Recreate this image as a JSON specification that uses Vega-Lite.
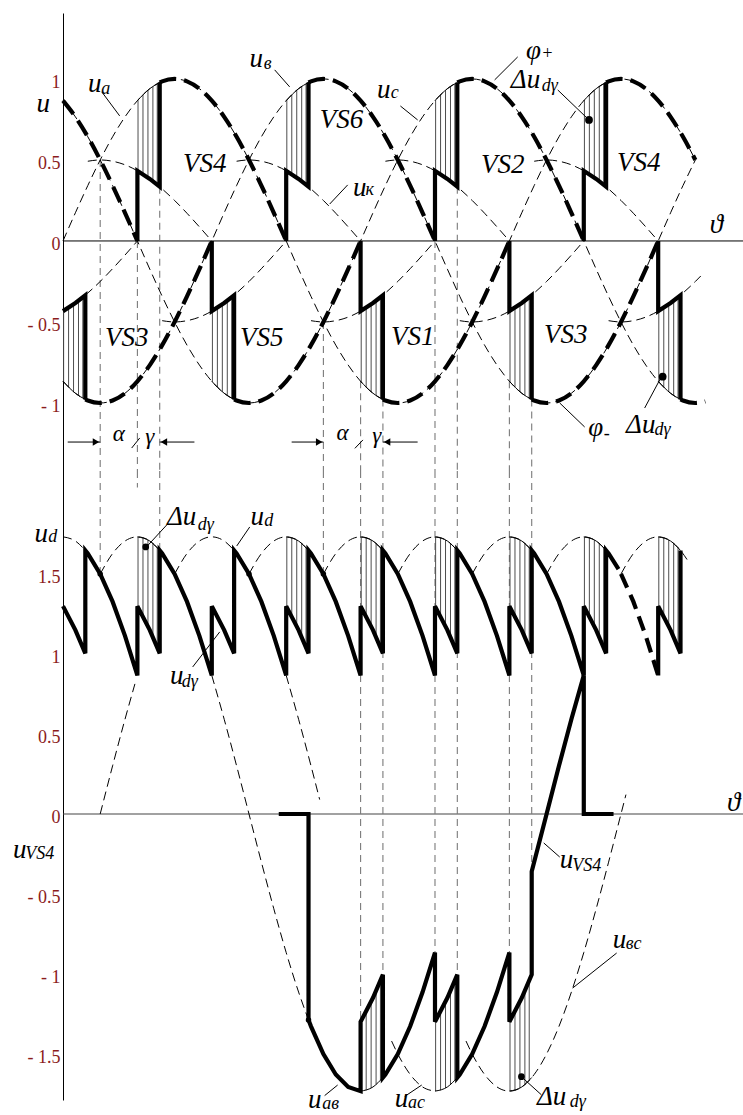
{
  "$schema": "https://vega.github.io/schema/vega-lite/v6.json",
  "width": 680,
  "height": 1087,
  "autosize": {"type": "none"},
  "padding": {"left": 63, "top": 13, "right": 0, "bottom": 15},
  "background": "white",
  "config": {"view": {"stroke": null}, "text": {"font": "Liberation Serif, Times New Roman, serif"}},
  "datasets": {
    "axT": [{"t": 0, "t2": 548.4, "u": 0}],
    "phase": [
      {"t":0,"a":0,"b":-0.866,"c":0.866},{"t":10,"a":0.174,"b":-0.94,"c":0.766},{"t":20,"a":0.342,"b":-0.985,"c":0.643},
      {"t":30,"a":0.5,"b":-1,"c":0.5},{"t":40,"a":0.643,"b":-0.985,"c":0.342},{"t":50,"a":0.766,"b":-0.94,"c":0.174},
      {"t":60,"a":0.866,"b":-0.866,"c":0},{"t":70,"a":0.94,"b":-0.766,"c":-0.174},{"t":80,"a":0.985,"b":-0.643,"c":-0.342},
      {"t":90,"a":1,"b":-0.5,"c":-0.5},{"t":100,"a":0.985,"b":-0.342,"c":-0.643},{"t":110,"a":0.94,"b":-0.174,"c":-0.766},
      {"t":120,"a":0.866,"b":0,"c":-0.866},{"t":130,"a":0.766,"b":0.174,"c":-0.94},{"t":140,"a":0.643,"b":0.342,"c":-0.985},
      {"t":150,"a":0.5,"b":0.5,"c":-1},{"t":160,"a":0.342,"b":0.643,"c":-0.985},{"t":170,"a":0.174,"b":0.766,"c":-0.94},
      {"t":180,"a":0,"b":0.866,"c":-0.866},{"t":190,"a":-0.174,"b":0.94,"c":-0.766},{"t":200,"a":-0.342,"b":0.985,"c":-0.643},
      {"t":210,"a":-0.5,"b":1,"c":-0.5},{"t":220,"a":-0.643,"b":0.985,"c":-0.342},{"t":230,"a":-0.766,"b":0.94,"c":-0.174},
      {"t":240,"a":-0.866,"b":0.866,"c":0},{"t":250,"a":-0.94,"b":0.766,"c":0.174},{"t":260,"a":-0.985,"b":0.643,"c":0.342},
      {"t":270,"a":-1,"b":0.5,"c":0.5},{"t":280,"a":-0.985,"b":0.342,"c":0.643},{"t":290,"a":-0.94,"b":0.174,"c":0.766},
      {"t":300,"a":-0.866,"b":0,"c":0.866},{"t":310,"a":-0.766,"b":-0.174,"c":0.94},{"t":320,"a":-0.643,"b":-0.342,"c":0.985},
      {"t":330,"a":-0.5,"b":-0.5,"c":1},{"t":340,"a":-0.342,"b":-0.643,"c":0.985},{"t":350,"a":-0.174,"b":-0.766,"c":0.94},
      {"t":360,"a":0,"b":-0.866,"c":0.866},{"t":370,"a":0.174,"b":-0.94,"c":0.766},{"t":380,"a":0.342,"b":-0.985,"c":0.643},
      {"t":390,"a":0.5,"b":-1,"c":0.5},{"t":400,"a":0.643,"b":-0.985,"c":0.342},{"t":410,"a":0.766,"b":-0.94,"c":0.174},
      {"t":420,"a":0.866,"b":-0.866,"c":0},{"t":430,"a":0.94,"b":-0.766,"c":-0.174},{"t":440,"a":0.985,"b":-0.643,"c":-0.342},
      {"t":450,"a":1,"b":-0.5,"c":-0.5},{"t":460,"a":0.985,"b":-0.342,"c":-0.643},{"t":470,"a":0.94,"b":-0.174,"c":-0.766},
      {"t":480,"a":0.866,"b":0,"c":-0.866},{"t":490,"a":0.766,"b":0.174,"c":-0.94},{"t":500,"a":0.643,"b":0.342,"c":-0.985},
      {"t":510,"a":0.5,"b":0.5,"c":-1}
    ],
    "kcurve": [
      {"s":"k30","t":20,"u":0.492},{"s":"k30","t":30,"u":0.5},{"s":"k30","t":40,"u":0.492},{"s":"k30","t":50,"u":0.47},{"s":"k30","t":60,"u":0.433},{"s":"k30","t":70,"u":0.383},{"s":"k30","t":80,"u":0.321},{"s":"k30","t":90,"u":0.25},{"s":"k30","t":100,"u":0.171},{"s":"k30","t":110,"u":0.087},{"s":"k30","t":120,"u":0},
      {"s":"k150","t":140,"u":0.492},{"s":"k150","t":150,"u":0.5},{"s":"k150","t":160,"u":0.492},{"s":"k150","t":170,"u":0.47},{"s":"k150","t":180,"u":0.433},{"s":"k150","t":190,"u":0.383},{"s":"k150","t":200,"u":0.321},{"s":"k150","t":210,"u":0.25},{"s":"k150","t":220,"u":0.171},{"s":"k150","t":230,"u":0.087},{"s":"k150","t":240,"u":0},
      {"s":"k270","t":260,"u":0.492},{"s":"k270","t":270,"u":0.5},{"s":"k270","t":280,"u":0.492},{"s":"k270","t":290,"u":0.47},{"s":"k270","t":300,"u":0.433},{"s":"k270","t":310,"u":0.383},{"s":"k270","t":320,"u":0.321},{"s":"k270","t":330,"u":0.25},{"s":"k270","t":340,"u":0.171},{"s":"k270","t":350,"u":0.087},{"s":"k270","t":360,"u":0},
      {"s":"k390","t":380,"u":0.492},{"s":"k390","t":390,"u":0.5},{"s":"k390","t":400,"u":0.492},{"s":"k390","t":410,"u":0.47},{"s":"k390","t":420,"u":0.433},{"s":"k390","t":430,"u":0.383},{"s":"k390","t":440,"u":0.321},{"s":"k390","t":450,"u":0.25},{"s":"k390","t":460,"u":0.171},{"s":"k390","t":470,"u":0.087},{"s":"k390","t":480,"u":0},
      {"s":"km30","t":0,"u":-0.433},{"s":"km30","t":10,"u":-0.383},{"s":"km30","t":20,"u":-0.321},{"s":"km30","t":30,"u":-0.25},{"s":"km30","t":40,"u":-0.171},{"s":"km30","t":50,"u":-0.087},{"s":"km30","t":60,"u":0},
      {"s":"k90","t":80,"u":-0.492},{"s":"k90","t":90,"u":-0.5},{"s":"k90","t":100,"u":-0.492},{"s":"k90","t":110,"u":-0.47},{"s":"k90","t":120,"u":-0.433},{"s":"k90","t":130,"u":-0.383},{"s":"k90","t":140,"u":-0.321},{"s":"k90","t":150,"u":-0.25},{"s":"k90","t":160,"u":-0.171},{"s":"k90","t":170,"u":-0.087},{"s":"k90","t":180,"u":0},
      {"s":"k210","t":200,"u":-0.492},{"s":"k210","t":210,"u":-0.5},{"s":"k210","t":220,"u":-0.492},{"s":"k210","t":230,"u":-0.47},{"s":"k210","t":240,"u":-0.433},{"s":"k210","t":250,"u":-0.383},{"s":"k210","t":260,"u":-0.321},{"s":"k210","t":270,"u":-0.25},{"s":"k210","t":280,"u":-0.171},{"s":"k210","t":290,"u":-0.087},{"s":"k210","t":300,"u":0},
      {"s":"k330","t":320,"u":-0.492},{"s":"k330","t":330,"u":-0.5},{"s":"k330","t":340,"u":-0.492},{"s":"k330","t":350,"u":-0.47},{"s":"k330","t":360,"u":-0.433},{"s":"k330","t":370,"u":-0.383},{"s":"k330","t":380,"u":-0.321},{"s":"k330","t":390,"u":-0.25},{"s":"k330","t":400,"u":-0.171},{"s":"k330","t":410,"u":-0.087},{"s":"k330","t":420,"u":0},
      {"s":"k450","t":440,"u":-0.492},{"s":"k450","t":450,"u":-0.5},{"s":"k450","t":460,"u":-0.492},{"s":"k450","t":470,"u":-0.47},{"s":"k450","t":480,"u":-0.433},{"s":"k450","t":490,"u":-0.383},{"s":"k450","t":500,"u":-0.321},{"s":"k450","t":510,"u":-0.25},{"s":"k450","t":516,"u":-0.203}
    ],
    "phi": [
      {"s":"p0","t":0,"u":0.866},{"s":"p0","t":10,"u":0.766},{"s":"p0","t":20,"u":0.643},{"s":"p0","t":30,"u":0.5},{"s":"p0","t":40,"u":0.342},{"s":"p0","t":50,"u":0.174},{"s":"p0","t":60,"u":0},
      {"s":"p1","t":78,"u":0.978},{"s":"p1","t":80,"u":0.985},{"s":"p1","t":90,"u":1},{"s":"p1","t":100,"u":0.985},{"s":"p1","t":110,"u":0.94},{"s":"p1","t":120,"u":0.866},{"s":"p1","t":130,"u":0.766},{"s":"p1","t":140,"u":0.643},{"s":"p1","t":150,"u":0.5},{"s":"p1","t":160,"u":0.342},{"s":"p1","t":170,"u":0.174},{"s":"p1","t":180,"u":0},
      {"s":"p2","t":198,"u":0.978},{"s":"p2","t":200,"u":0.985},{"s":"p2","t":210,"u":1},{"s":"p2","t":220,"u":0.985},{"s":"p2","t":230,"u":0.94},{"s":"p2","t":240,"u":0.866},{"s":"p2","t":250,"u":0.766},{"s":"p2","t":260,"u":0.643},{"s":"p2","t":270,"u":0.5},{"s":"p2","t":280,"u":0.342},{"s":"p2","t":290,"u":0.174},{"s":"p2","t":300,"u":0},
      {"s":"p3","t":318,"u":0.978},{"s":"p3","t":320,"u":0.985},{"s":"p3","t":330,"u":1},{"s":"p3","t":340,"u":0.985},{"s":"p3","t":350,"u":0.94},{"s":"p3","t":360,"u":0.866},{"s":"p3","t":370,"u":0.766},{"s":"p3","t":380,"u":0.643},{"s":"p3","t":390,"u":0.5},{"s":"p3","t":400,"u":0.342},{"s":"p3","t":410,"u":0.174},{"s":"p3","t":420,"u":0},
      {"s":"p4","t":438,"u":0.978},{"s":"p4","t":440,"u":0.985},{"s":"p4","t":450,"u":1},{"s":"p4","t":460,"u":0.985},{"s":"p4","t":470,"u":0.94},{"s":"p4","t":480,"u":0.866},{"s":"p4","t":490,"u":0.766},{"s":"p4","t":500,"u":0.643},{"s":"p4","t":510,"u":0.5},
      {"s":"n0","t":18,"u":-0.978},{"s":"n0","t":20,"u":-0.985},{"s":"n0","t":30,"u":-1},{"s":"n0","t":40,"u":-0.985},{"s":"n0","t":50,"u":-0.94},{"s":"n0","t":60,"u":-0.866},{"s":"n0","t":70,"u":-0.766},{"s":"n0","t":80,"u":-0.643},{"s":"n0","t":90,"u":-0.5},{"s":"n0","t":100,"u":-0.342},{"s":"n0","t":110,"u":-0.174},{"s":"n0","t":120,"u":0},
      {"s":"n1","t":138,"u":-0.978},{"s":"n1","t":140,"u":-0.985},{"s":"n1","t":150,"u":-1},{"s":"n1","t":160,"u":-0.985},{"s":"n1","t":170,"u":-0.94},{"s":"n1","t":180,"u":-0.866},{"s":"n1","t":190,"u":-0.766},{"s":"n1","t":200,"u":-0.643},{"s":"n1","t":210,"u":-0.5},{"s":"n1","t":220,"u":-0.342},{"s":"n1","t":230,"u":-0.174},{"s":"n1","t":240,"u":0},
      {"s":"n2","t":258,"u":-0.978},{"s":"n2","t":260,"u":-0.985},{"s":"n2","t":270,"u":-1},{"s":"n2","t":280,"u":-0.985},{"s":"n2","t":290,"u":-0.94},{"s":"n2","t":300,"u":-0.866},{"s":"n2","t":310,"u":-0.766},{"s":"n2","t":320,"u":-0.643},{"s":"n2","t":330,"u":-0.5},{"s":"n2","t":340,"u":-0.342},{"s":"n2","t":350,"u":-0.174},{"s":"n2","t":360,"u":0},
      {"s":"n3","t":378,"u":-0.978},{"s":"n3","t":380,"u":-0.985},{"s":"n3","t":390,"u":-1},{"s":"n3","t":400,"u":-0.985},{"s":"n3","t":410,"u":-0.94},{"s":"n3","t":420,"u":-0.866},{"s":"n3","t":430,"u":-0.766},{"s":"n3","t":440,"u":-0.643},{"s":"n3","t":450,"u":-0.5},{"s":"n3","t":460,"u":-0.342},{"s":"n3","t":470,"u":-0.174},{"s":"n3","t":480,"u":0},
      {"s":"n4","t":498,"u":-0.978},{"s":"n4","t":500,"u":-0.985},{"s":"n4","t":510,"u":-1},{"s":"n4","t":518,"u":-0.99}
    ],
    "comm": [
      {"s":"cp60","t":60,"u":0},{"s":"cp60","t":60,"u":0.433},{"s":"cp60","t":70,"u":0.383},{"s":"cp60","t":78,"u":0.335},{"s":"cp60","t":78,"u":0.978},
      {"s":"cp180","t":180,"u":0},{"s":"cp180","t":180,"u":0.433},{"s":"cp180","t":190,"u":0.383},{"s":"cp180","t":198,"u":0.335},{"s":"cp180","t":198,"u":0.978},
      {"s":"cp300","t":300,"u":0},{"s":"cp300","t":300,"u":0.433},{"s":"cp300","t":310,"u":0.383},{"s":"cp300","t":318,"u":0.335},{"s":"cp300","t":318,"u":0.978},
      {"s":"cp420","t":420,"u":0},{"s":"cp420","t":420,"u":0.433},{"s":"cp420","t":430,"u":0.383},{"s":"cp420","t":438,"u":0.335},{"s":"cp420","t":438,"u":0.978},
      {"s":"cn0","t":0,"u":-0.433},{"s":"cn0","t":10,"u":-0.383},{"s":"cn0","t":18,"u":-0.335},{"s":"cn0","t":18,"u":-0.978},
      {"s":"cn120","t":120,"u":0},{"s":"cn120","t":120,"u":-0.433},{"s":"cn120","t":130,"u":-0.383},{"s":"cn120","t":138,"u":-0.335},{"s":"cn120","t":138,"u":-0.978},
      {"s":"cn240","t":240,"u":0},{"s":"cn240","t":240,"u":-0.433},{"s":"cn240","t":250,"u":-0.383},{"s":"cn240","t":258,"u":-0.335},{"s":"cn240","t":258,"u":-0.978},
      {"s":"cn360","t":360,"u":0},{"s":"cn360","t":360,"u":-0.433},{"s":"cn360","t":370,"u":-0.383},{"s":"cn360","t":378,"u":-0.335},{"s":"cn360","t":378,"u":-0.978},
      {"s":"cn480","t":480,"u":0},{"s":"cn480","t":480,"u":-0.433},{"s":"cn480","t":490,"u":-0.383},{"s":"cn480","t":498,"u":-0.335},{"s":"cn480","t":498,"u":-0.978}
    ],
    "hatchT": [
      {"t":60.5,"u":0.431,"u2":0.87},{"t":64.5,"u":0.412,"u2":0.903},{"t":68.5,"u":0.391,"u2":0.93},{"t":72.5,"u":0.369,"u2":0.954},{"t":76,"u":0.347,"u2":0.97},
      {"t":180.5,"u":0.431,"u2":0.87},{"t":184.5,"u":0.412,"u2":0.903},{"t":188.5,"u":0.391,"u2":0.93},{"t":192.5,"u":0.369,"u2":0.954},{"t":196,"u":0.347,"u2":0.97},
      {"t":300.5,"u":0.431,"u2":0.87},{"t":304.5,"u":0.412,"u2":0.903},{"t":308.5,"u":0.391,"u2":0.93},{"t":312.5,"u":0.369,"u2":0.954},{"t":316,"u":0.347,"u2":0.97},
      {"t":420.5,"u":0.431,"u2":0.87},{"t":424.5,"u":0.412,"u2":0.903},{"t":428.5,"u":0.391,"u2":0.93},{"t":432.5,"u":0.369,"u2":0.954},{"t":436,"u":0.347,"u2":0.97},
      {"t":0.5,"u":-0.431,"u2":-0.87},{"t":4.5,"u":-0.412,"u2":-0.903},{"t":8.5,"u":-0.391,"u2":-0.93},{"t":12.5,"u":-0.369,"u2":-0.954},{"t":16,"u":-0.347,"u2":-0.97},
      {"t":120.5,"u":-0.431,"u2":-0.87},{"t":124.5,"u":-0.412,"u2":-0.903},{"t":128.5,"u":-0.391,"u2":-0.93},{"t":132.5,"u":-0.369,"u2":-0.954},{"t":136,"u":-0.347,"u2":-0.97},
      {"t":240.5,"u":-0.431,"u2":-0.87},{"t":244.5,"u":-0.412,"u2":-0.903},{"t":248.5,"u":-0.391,"u2":-0.93},{"t":252.5,"u":-0.369,"u2":-0.954},{"t":256,"u":-0.347,"u2":-0.97},
      {"t":360.5,"u":-0.431,"u2":-0.87},{"t":364.5,"u":-0.412,"u2":-0.903},{"t":368.5,"u":-0.391,"u2":-0.93},{"t":372.5,"u":-0.369,"u2":-0.954},{"t":376,"u":-0.347,"u2":-0.97},
      {"t":480.5,"u":-0.431,"u2":-0.87},{"t":484.5,"u":-0.412,"u2":-0.903},{"t":488.5,"u":-0.391,"u2":-0.93},{"t":492.5,"u":-0.369,"u2":-0.954},{"t":496,"u":-0.347,"u2":-0.97}
    ],
    "edgeT": [
      {"s":"e60","t":60,"u":0.866},{"s":"e60","t":70,"u":0.94},{"s":"e60","t":78,"u":0.978},
      {"s":"e180","t":180,"u":0.866},{"s":"e180","t":190,"u":0.94},{"s":"e180","t":198,"u":0.978},
      {"s":"e300","t":300,"u":0.866},{"s":"e300","t":310,"u":0.94},{"s":"e300","t":318,"u":0.978},
      {"s":"e420","t":420,"u":0.866},{"s":"e420","t":430,"u":0.94},{"s":"e420","t":438,"u":0.978},
      {"s":"f0","t":0,"u":-0.866},{"s":"f0","t":10,"u":-0.94},{"s":"f0","t":18,"u":-0.978},
      {"s":"f120","t":120,"u":-0.866},{"s":"f120","t":130,"u":-0.94},{"s":"f120","t":138,"u":-0.978},
      {"s":"f240","t":240,"u":-0.866},{"s":"f240","t":250,"u":-0.94},{"s":"f240","t":258,"u":-0.978},
      {"s":"f360","t":360,"u":-0.866},{"s":"f360","t":370,"u":-0.94},{"s":"f360","t":378,"u":-0.978},
      {"s":"f480","t":480,"u":-0.866},{"s":"f480","t":490,"u":-0.94},{"s":"f480","t":498,"u":-0.978}
    ],
    "guideT": [
      {"t":30,"u":0.5,"u2":-1.42},{"t":60,"u":0,"u2":-1.42},{"t":78,"u":0.335,"u2":-1.42},
      {"t":210,"u":-0.5,"u2":-1.42},{"t":240,"u":-0.866,"u2":-1.42},{"t":258,"u":-0.978,"u2":-1.42},
      {"t":300,"u":0,"u2":-1.42},{"t":318,"u":0.335,"u2":-1.42},{"t":360,"u":-0.866,"u2":-1.42},{"t":378,"u":-0.978,"u2":-1.42}
    ],
    "leadT": [
      {"t":31.3,"u":0.92,"t2":45.7,"u2":0.772},
      {"t":170.7,"u":1.056,"t2":182.8,"u2":0.951},
      {"t":272.1,"u":0.833,"t2":286,"u2":0.747},
      {"t":229.6,"u":0.346,"t2":215.1,"u2":0.228},
      {"t":348.1,"u":0.994,"t2":366.7,"u2":1.136},
      {"t":399,"u":0.932,"t2":424.2,"u2":0.747},
      {"t":400.6,"u":-1.0,"t2":420.7,"u2":-1.148},
      {"t":482.6,"u":-0.838,"t2":469.1,"u2":-1.031},
      {"t":3.8,"u":-1.241,"t2":30,"u2":-1.241},
      {"t":106,"u":-1.241,"t2":78,"u2":-1.241},
      {"t":184.4,"u":-1.241,"t2":210,"u2":-1.241},
      {"t":286,"u":-1.241,"t2":258,"u2":-1.241},
      {"t":55.4,"u":-1.278,"t2":61.9,"u2":-1.216},
      {"t":235.4,"u":-1.28,"t2":241.9,"u2":-1.228}
    ],
    "arrR": [{"t":26.6,"u":-1.241},{"t":206.6,"u":-1.241}],
    "arrL": [{"t":81.4,"u":-1.241},{"t":261.4,"u":-1.241}],
    "mkT": [{"t":424.2,"u":0.747},{"t":483.6,"u":-0.838}],
    "labT": [
      {"t":-16,"u":0.846,"txt":"u"},{"t":25.6,"u":0.969,"txt":"u"},{"t":155.8,"u":1.123,"txt":"u"},
      {"t":258.6,"u":0.932,"txt":"u"},{"t":239.3,"u":0.327,"txt":"u"},{"t":379.5,"u":1.175,"txt":"φ"},
      {"t":373,"u":0.995,"txt":"Δu"},{"t":527,"u":0.099,"txt":"ϑ"},{"t":429.6,"u":-1.154,"txt":"φ"},
      {"t":465.9,"u":-1.136,"txt":"Δu"}
    ],
    "greekT": [
      {"t":45,"u":-1.191,"txt":"α"},{"t":70,"u":-1.21,"txt":"γ"},{"t":225.5,"u":-1.185,"txt":"α"},{"t":253,"u":-1.204,"txt":"γ"}
    ],
    "subT": [
      {"t":34.5,"u":0.938,"txt":"a"},{"t":165,"u":1.093,"txt":"в"},{"t":267.5,"u":0.914,"txt":"c"},
      {"t":247.3,"u":0.315,"txt":"к"},{"t":390.5,"u":1.155,"txt":"+"},{"t":392.5,"u":0.957,"txt":"dγ"},
      {"t":438.5,"u":-1.191,"txt":"-"},{"t":483.6,"u":-1.167,"txt":"dγ"}
    ],
    "vsT": [
      {"t":114.3,"u":0.475,"txt":"VS4"},{"t":224.7,"u":0.747,"txt":"VS6"},{"t":354.6,"u":0.469,"txt":"VS2"},
      {"t":464.3,"u":0.481,"txt":"VS4"},{"t":51.4,"u":-0.599,"txt":"VS3"},{"t":160.2,"u":-0.599,"txt":"VS5"},
      {"t":282,"u":-0.593,"txt":"VS1"},{"t":405.4,"u":-0.58,"txt":"VS3"}
    ],
    "axB": [{"t": 0, "t2": 548.4, "u": 0}],
    "guideB": [
      {"t":30,"u":2.144,"u2":1.5},{"t":60,"u":2.144,"u2":2.04},{"t":78,"u":2.144,"u2":1.647},
      {"t":210,"u":2.144,"u2":1.5},{"t":240,"u":2.144,"u2":-1.299},{"t":258,"u":2.144,"u2":-1.004},
      {"t":300,"u":2.144,"u2":-0.866},{"t":318,"u":2.144,"u2":-1.004},{"t":360,"u":2.144,"u2":-0.866},{"t":378,"u":2.144,"u2":-0.36}
    ],
    "hatchB": [
      {"t":60.5,"u":1.293,"u2":1.732},{"t":64.5,"u":1.236,"u2":1.727},{"t":68.5,"u":1.174,"u2":1.713},{"t":72.5,"u":1.106,"u2":1.691},{"t":76,"u":1.042,"u2":1.665},
      {"t":180.5,"u":1.293,"u2":1.732},{"t":184.5,"u":1.236,"u2":1.727},{"t":188.5,"u":1.174,"u2":1.713},{"t":192.5,"u":1.106,"u2":1.691},{"t":196,"u":1.042,"u2":1.665},
      {"t":240.5,"u":1.293,"u2":1.732},{"t":244.5,"u":1.236,"u2":1.727},{"t":248.5,"u":1.174,"u2":1.713},{"t":252.5,"u":1.106,"u2":1.691},{"t":256,"u":1.042,"u2":1.665},
      {"t":300.5,"u":1.293,"u2":1.732},{"t":304.5,"u":1.236,"u2":1.727},{"t":308.5,"u":1.174,"u2":1.713},{"t":312.5,"u":1.106,"u2":1.691},{"t":316,"u":1.042,"u2":1.665},
      {"t":360.5,"u":1.293,"u2":1.732},{"t":364.5,"u":1.236,"u2":1.727},{"t":368.5,"u":1.174,"u2":1.713},{"t":372.5,"u":1.106,"u2":1.691},{"t":376,"u":1.042,"u2":1.665},
      {"t":420.5,"u":1.293,"u2":1.732},{"t":424.5,"u":1.236,"u2":1.727},{"t":428.5,"u":1.174,"u2":1.713},{"t":432.5,"u":1.106,"u2":1.691},{"t":436,"u":1.042,"u2":1.665},
      {"t":480.5,"u":1.293,"u2":1.732},{"t":484.5,"u":1.236,"u2":1.727},{"t":488.5,"u":1.174,"u2":1.713},{"t":492.5,"u":1.106,"u2":1.691},{"t":496,"u":1.042,"u2":1.665},
      {"t":240.5,"u":-1.293,"u2":-1.732},{"t":244.5,"u":-1.236,"u2":-1.727},{"t":248.5,"u":-1.174,"u2":-1.713},{"t":252.5,"u":-1.106,"u2":-1.691},{"t":256,"u":-1.042,"u2":-1.665},
      {"t":300.5,"u":-1.293,"u2":-1.732},{"t":304.5,"u":-1.236,"u2":-1.727},{"t":308.5,"u":-1.174,"u2":-1.713},{"t":312.5,"u":-1.106,"u2":-1.691},{"t":316,"u":-1.042,"u2":-1.665},
      {"t":360.5,"u":-1.293,"u2":-1.732},{"t":364.5,"u":-1.236,"u2":-1.727},{"t":368.5,"u":-1.174,"u2":-1.713},{"t":372.5,"u":-1.106,"u2":-1.691},{"t":376,"u":-1.042,"u2":-1.665}
    ],
    "edgeB": [
      {"s":"g60","t":60,"u":1.732},{"s":"g60","t":70,"u":1.706},{"s":"g60","t":78,"u":1.647},
      {"s":"g180","t":180,"u":1.732},{"s":"g180","t":190,"u":1.706},{"s":"g180","t":198,"u":1.647},
      {"s":"g240","t":240,"u":1.732},{"s":"g240","t":250,"u":1.706},{"s":"g240","t":258,"u":1.647},
      {"s":"g300","t":300,"u":1.732},{"s":"g300","t":310,"u":1.706},{"s":"g300","t":318,"u":1.647},
      {"s":"g360","t":360,"u":1.732},{"s":"g360","t":370,"u":1.706},{"s":"g360","t":378,"u":1.647},
      {"s":"g420","t":420,"u":1.732},{"s":"g420","t":430,"u":1.706},{"s":"g420","t":438,"u":1.647},
      {"s":"g480","t":480,"u":1.732},{"s":"g480","t":490,"u":1.706},{"s":"g480","t":498,"u":1.647},
      {"s":"h240","t":240,"u":-1.732},{"s":"h240","t":250,"u":-1.706},{"s":"h240","t":258,"u":-1.647},
      {"s":"h300","t":300,"u":-1.732},{"s":"h300","t":310,"u":-1.706},{"s":"h300","t":318,"u":-1.647},
      {"s":"h360","t":360,"u":-1.732},{"s":"h360","t":370,"u":-1.706},{"s":"h360","t":378,"u":-1.647}
    ],
    "arcs": [
      {"s":"a0","t":0,"u":1.732},{"s":"a0","t":10,"u":1.706},{"s":"a0","t":18,"u":1.647},
      {"s":"a60","t":30,"u":1.5},{"s":"a60","t":40,"u":1.628},{"s":"a60","t":50,"u":1.706},{"s":"a60","t":60,"u":1.732},{"s":"a60","t":70,"u":1.706},{"s":"a60","t":78,"u":1.647},
      {"s":"a120","t":90,"u":1.5},{"s":"a120","t":100,"u":1.628},{"s":"a120","t":110,"u":1.706},{"s":"a120","t":120,"u":1.732},{"s":"a120","t":130,"u":1.706},{"s":"a120","t":138,"u":1.647},
      {"s":"a180","t":150,"u":1.5},{"s":"a180","t":160,"u":1.628},{"s":"a180","t":170,"u":1.706},{"s":"a180","t":180,"u":1.732},{"s":"a180","t":190,"u":1.706},{"s":"a180","t":198,"u":1.647},
      {"s":"a240","t":210,"u":1.5},{"s":"a240","t":220,"u":1.628},{"s":"a240","t":230,"u":1.706},{"s":"a240","t":240,"u":1.732},{"s":"a240","t":250,"u":1.706},{"s":"a240","t":258,"u":1.647},
      {"s":"a300","t":270,"u":1.5},{"s":"a300","t":280,"u":1.628},{"s":"a300","t":290,"u":1.706},{"s":"a300","t":300,"u":1.732},{"s":"a300","t":310,"u":1.706},{"s":"a300","t":318,"u":1.647},
      {"s":"a360","t":330,"u":1.5},{"s":"a360","t":340,"u":1.628},{"s":"a360","t":350,"u":1.706},{"s":"a360","t":360,"u":1.732},{"s":"a360","t":370,"u":1.706},{"s":"a360","t":378,"u":1.647},
      {"s":"a420","t":390,"u":1.5},{"s":"a420","t":400,"u":1.628},{"s":"a420","t":410,"u":1.706},{"s":"a420","t":420,"u":1.732},{"s":"a420","t":430,"u":1.706},{"s":"a420","t":438,"u":1.647},
      {"s":"a480","t":450,"u":1.5},{"s":"a480","t":460,"u":1.628},{"s":"a480","t":470,"u":1.706},{"s":"a480","t":480,"u":1.732},{"s":"a480","t":490,"u":1.706},{"s":"a480","t":498,"u":1.647},{"s":"a480","t":505,"u":1.57}
    ],
    "lowDash": [
      {"s":"uac1","t":30,"u":0},{"s":"uac1","t":40,"u":0.301},{"s":"uac1","t":50,"u":0.592},{"s":"uac1","t":58,"u":0.813},
      {"s":"uab","t":120,"u":0.866},{"s":"uab","t":130,"u":0.592},{"s":"uab","t":140,"u":0.301},{"s":"uab","t":150,"u":0},{"s":"uab","t":160,"u":-0.301},{"s":"uab","t":170,"u":-0.592},{"s":"uab","t":180,"u":-0.866},{"s":"uab","t":190,"u":-1.113},{"s":"uab","t":198,"u":-1.287},
      {"s":"uac2","t":180,"u":0.866},{"s":"uac2","t":190,"u":0.592},{"s":"uac2","t":200,"u":0.301},{"s":"uac2","t":207,"u":0.09},
      {"s":"uac3","t":265,"u":-1.419},{"s":"uac3","t":270,"u":-1.5},{"s":"uac3","t":280,"u":-1.628},{"s":"uac3","t":290,"u":-1.706},{"s":"uac3","t":300,"u":-1.732},
      {"s":"ubc","t":325,"u":-1.419},{"s":"ubc","t":330,"u":-1.5},{"s":"ubc","t":340,"u":-1.628},{"s":"ubc","t":350,"u":-1.706},{"s":"ubc","t":360,"u":-1.732},{"s":"ubc","t":370,"u":-1.706},{"s":"ubc","t":380,"u":-1.628},{"s":"ubc","t":390,"u":-1.5},{"s":"ubc","t":400,"u":-1.327},{"s":"ubc","t":410,"u":-1.113},{"s":"ubc","t":420,"u":-0.866},{"s":"ubc","t":430,"u":-0.592},{"s":"ubc","t":440,"u":-0.301},{"s":"ubc","t":450,"u":0},{"s":"ubc","t":454,"u":0.121}
    ],
    "ud": [
      {"s":"ud1","t":0,"u":1.299},{"s":"ud1","t":10,"u":1.149},{"s":"ud1","t":18,"u":1.004},{"s":"ud1","t":18,"u":1.647},{"s":"ud1","t":20,"u":1.628},{"s":"ud1","t":30,"u":1.5},{"s":"ud1","t":40,"u":1.327},{"s":"ud1","t":50,"u":1.113},{"s":"ud1","t":60,"u":0.866},
      {"s":"ud1","t":60,"u":1.299},{"s":"ud1","t":70,"u":1.149},{"s":"ud1","t":78,"u":1.004},{"s":"ud1","t":78,"u":1.647},{"s":"ud1","t":80,"u":1.628},{"s":"ud1","t":90,"u":1.5},{"s":"ud1","t":100,"u":1.327},{"s":"ud1","t":110,"u":1.113},{"s":"ud1","t":120,"u":0.866},
      {"s":"ud1","t":120,"u":1.299},{"s":"ud1","t":130,"u":1.149},{"s":"ud1","t":138,"u":1.004},{"s":"ud1","t":138,"u":1.647},{"s":"ud1","t":140,"u":1.628},{"s":"ud1","t":150,"u":1.5},{"s":"ud1","t":160,"u":1.327},{"s":"ud1","t":170,"u":1.113},{"s":"ud1","t":180,"u":0.866},
      {"s":"ud1","t":180,"u":1.299},{"s":"ud1","t":190,"u":1.149},{"s":"ud1","t":198,"u":1.004},{"s":"ud1","t":198,"u":1.647},{"s":"ud1","t":200,"u":1.628},{"s":"ud1","t":210,"u":1.5},{"s":"ud1","t":220,"u":1.327},{"s":"ud1","t":230,"u":1.113},{"s":"ud1","t":240,"u":0.866},
      {"s":"ud1","t":240,"u":1.299},{"s":"ud1","t":250,"u":1.149},{"s":"ud1","t":258,"u":1.004},{"s":"ud1","t":258,"u":1.647},{"s":"ud1","t":260,"u":1.628},{"s":"ud1","t":270,"u":1.5},{"s":"ud1","t":280,"u":1.327},{"s":"ud1","t":290,"u":1.113},{"s":"ud1","t":300,"u":0.866},
      {"s":"ud1","t":300,"u":1.299},{"s":"ud1","t":310,"u":1.149},{"s":"ud1","t":318,"u":1.004},{"s":"ud1","t":318,"u":1.647},{"s":"ud1","t":320,"u":1.628},{"s":"ud1","t":330,"u":1.5},{"s":"ud1","t":340,"u":1.327},{"s":"ud1","t":350,"u":1.113},{"s":"ud1","t":360,"u":0.866},
      {"s":"ud1","t":360,"u":1.299},{"s":"ud1","t":370,"u":1.149},{"s":"ud1","t":378,"u":1.004},{"s":"ud1","t":378,"u":1.647},{"s":"ud1","t":380,"u":1.628},{"s":"ud1","t":390,"u":1.5},{"s":"ud1","t":400,"u":1.327},{"s":"ud1","t":410,"u":1.113},{"s":"ud1","t":420,"u":0.866},
      {"s":"ud1","t":420,"u":1.299},{"s":"ud1","t":430,"u":1.149},{"s":"ud1","t":438,"u":1.004},{"s":"ud1","t":438,"u":1.647},{"s":"ud1","t":440,"u":1.628},{"s":"ud1","t":448,"u":1.53},
      {"s":"ud3","t":480,"u":0.866},{"s":"ud3","t":480,"u":1.299},{"s":"ud3","t":490,"u":1.149},{"s":"ud3","t":498,"u":1.004},{"s":"ud3","t":498,"u":1.647}
    ],
    "udDash": [
      {"t":450,"u":1.5},{"t":460,"u":1.327},{"t":470,"u":1.113},{"t":480,"u":0.866}
    ],
    "vs4": [
      {"t":174,"u":0},{"t":198,"u":0},{"t":198,"u":-1.287},{"t":200,"u":-1.327},{"t":210,"u":-1.5},{"t":220,"u":-1.628},{"t":230,"u":-1.706},{"t":240,"u":-1.732},
      {"t":240,"u":-1.299},{"t":250,"u":-1.149},{"t":258,"u":-1.004},{"t":258,"u":-1.647},{"t":260,"u":-1.628},{"t":270,"u":-1.5},{"t":280,"u":-1.327},{"t":290,"u":-1.113},{"t":300,"u":-0.866},
      {"t":300,"u":-1.299},{"t":310,"u":-1.149},{"t":318,"u":-1.004},{"t":318,"u":-1.647},{"t":320,"u":-1.628},{"t":330,"u":-1.5},{"t":340,"u":-1.327},{"t":350,"u":-1.113},{"t":360,"u":-0.866},
      {"t":360,"u":-1.299},{"t":370,"u":-1.149},{"t":378,"u":-1.004},{"t":378,"u":-0.36},{"t":390,"u":0},{"t":400,"u":0.301},{"t":410,"u":0.592},{"t":420,"u":0.866},
      {"t":420,"u":0},{"t":444,"u":0}
    ],
    "leadB": [
      {"t":83.6,"u":1.806,"t2":67.3,"u2":1.669},
      {"t":150.6,"u":1.794,"t2":140.1,"u2":1.675},
      {"t":104.6,"u":0.919,"t2":126.4,"u2":1.138},
      {"t":387.7,"u":-0.181,"t2":400.6,"u2":-0.269},
      {"t":446.5,"u":-0.869,"t2":411,"u2":-1.088},
      {"t":275.6,"u":-1.765,"t2":289.3,"u2":-1.694},
      {"t":369.7,"u":-1.642,"t2":385.8,"u2":-1.755},
      {"t":211,"u":-1.76,"t2":221.5,"u2":-1.694}
    ],
    "mkB": [{"t":66.7,"u":1.669},{"t":369.7,"u":-1.642}],
    "jB": [{"t":30,"u":1.5},{"t":150,"u":1.5},{"t":210,"u":1.5},{"t":198,"u":-1.287}],
    "labB": [
      {"t":-17.6,"u":1.75,"txt":"u"},{"t":95.7,"u":1.856,"txt":"Δu"},{"t":156.6,"u":1.856,"txt":"u"},
      {"t":91.7,"u":0.863,"txt":"u"},{"t":540.9,"u":0.069,"txt":"ϑ"},{"t":-34.9,"u":-0.225,"txt":"u"},
      {"t":406,"u":-0.288,"txt":"u"},{"t":448.9,"u":-0.788,"txt":"u"},{"t":272.9,"u":-1.782,"txt":"u"},
      {"t":394.1,"u":-1.768,"txt":"Δu"},{"t":203,"u":-1.785,"txt":"u"}
    ],
    "subB": [
      {"t":-8.3,"u":1.731,"txt":"d"},{"t":115.1,"u":1.806,"txt":"dγ"},{"t":165.9,"u":1.831,"txt":"d"},
      {"t":102.2,"u":0.825,"txt":"dγ"},{"t":-18.8,"u":-0.25,"txt":"VS4"},{"t":422.3,"u":-0.325,"txt":"VS4"},
      {"t":460.2,"u":-0.813,"txt":"вс"},{"t":285,"u":-1.807,"txt":"ac"},{"t":415.1,"u":-1.803,"txt":"dγ"},
      {"t":215.9,"u":-1.81,"txt":"ав"}
    ]
  },
  "layer": [
    {
      "encoding": {
        "x": {"field": "t", "type": "quantitative", "scale": {"domain": [0, 548.4], "nice": false, "zero": false}, "axis": null},
        "y": {
          "field": "u", "type": "quantitative",
          "scale": {"domain": [-5.302, 1.407], "nice": false, "zero": false},
          "axis": {
            "orient": "left", "title": null, "grid": false, "ticks": false,
            "values": [-1, -0.5, 0, 0.5, 1],
            "domain": true, "domainColor": "black", "domainWidth": 1,
            "labelColor": "#8b1c1c", "labelFont": "Liberation Serif, Times New Roman, serif", "labelFontSize": 18,
            "labelPadding": 3, "labelOffset": 4,
            "labelExpr": "datum.value < 0 ? '- ' + (-datum.value) : '' + datum.value"
          }
        }
      },
      "layer": [
        {"data": {"name": "axT"}, "mark": {"type": "rule", "stroke": "black", "strokeWidth": 1}, "encoding": {"x2": {"field": "t2"}}},
        {"data": {"name": "guideT"}, "mark": {"type": "rule", "stroke": "#7a7a7a", "strokeWidth": 1.1, "strokeDash": [7, 5]}, "encoding": {"y2": {"field": "u2"}}},
        {"data": {"name": "hatchT"}, "mark": {"type": "rule", "stroke": "#4d4d4d", "strokeWidth": 1}, "encoding": {"y2": {"field": "u2"}}},
        {"data": {"name": "phase"}, "transform": [{"fold": ["a", "b", "c"], "as": ["s", "u"]}],
         "mark": {"type": "line", "stroke": "black", "strokeWidth": 1, "strokeDash": [9, 5], "interpolate": "monotone"},
         "encoding": {"detail": {"field": "s"}}},
        {"data": {"name": "kcurve"}, "mark": {"type": "line", "stroke": "black", "strokeWidth": 1, "strokeDash": [9, 5], "interpolate": "monotone"},
         "encoding": {"detail": {"field": "s"}}},
        {"data": {"name": "edgeT"}, "mark": {"type": "line", "stroke": "black", "strokeWidth": 1, "interpolate": "monotone"},
         "encoding": {"detail": {"field": "s"}}},
        {"data": {"name": "phi"}, "mark": {"type": "line", "stroke": "black", "strokeWidth": 4.2, "strokeDash": [17, 8], "strokeCap": "butt", "interpolate": "monotone"},
         "encoding": {"detail": {"field": "s"}}},
        {"data": {"name": "comm"}, "mark": {"type": "line", "stroke": "black", "strokeWidth": 4.2, "strokeJoin": "miter"},
         "encoding": {"detail": {"field": "s"}, "order": {"value": null}}},
        {"data": {"name": "leadT"}, "mark": {"type": "rule", "stroke": "black", "strokeWidth": 1}, "encoding": {"x2": {"field": "t2"}, "y2": {"field": "u2"}}},
        {"data": {"name": "arrR"}, "mark": {"type": "point", "shape": "triangle-right", "filled": true, "fill": "black", "opacity": 1, "size": 55, "strokeWidth": 0}},
        {"data": {"name": "arrL"}, "mark": {"type": "point", "shape": "triangle-left", "filled": true, "fill": "black", "opacity": 1, "size": 55, "strokeWidth": 0}},
        {"data": {"name": "mkT"}, "mark": {"type": "circle", "fill": "black", "opacity": 1, "size": 60}},
        {"data": {"name": "labT"}, "mark": {"type": "text", "font": "Liberation Serif, Times New Roman, serif", "fontStyle": "italic", "fontSize": 27, "align": "center", "baseline": "middle", "color": "black"},
         "encoding": {"text": {"field": "txt"}}},
        {"data": {"name": "greekT"}, "mark": {"type": "text", "font": "Liberation Serif, Times New Roman, serif", "fontStyle": "italic", "fontSize": 23, "align": "center", "baseline": "middle", "color": "black"},
         "encoding": {"text": {"field": "txt"}}},
        {"data": {"name": "subT"}, "mark": {"type": "text", "font": "Liberation Serif, Times New Roman, serif", "fontStyle": "italic", "fontSize": 18, "align": "center", "baseline": "middle", "color": "black"},
         "encoding": {"text": {"field": "txt"}}},
        {"data": {"name": "vsT"}, "mark": {"type": "text", "font": "Liberation Serif, Times New Roman, serif", "fontStyle": "italic", "fontSize": 27, "align": "center", "baseline": "middle", "color": "black"},
         "encoding": {"text": {"field": "txt"}}}
      ]
    },
    {
      "encoding": {
        "x": {"field": "t", "type": "quantitative", "scale": {"domain": [0, 548.4], "nice": false, "zero": false}, "axis": null},
        "y": {
          "field": "u", "type": "quantitative",
          "scale": {"domain": [-1.7875, 5.006], "nice": false, "zero": false},
          "axis": {
            "orient": "left", "title": null, "grid": false, "ticks": false,
            "values": [-1.5, -1, -0.5, 0, 0.5, 1, 1.5],
            "domain": false,
            "labelColor": "#8b1c1c", "labelFont": "Liberation Serif, Times New Roman, serif", "labelFontSize": 18,
            "labelPadding": 3, "labelOffset": 4,
            "labelExpr": "datum.value < 0 ? '- ' + (-datum.value) : '' + datum.value"
          }
        }
      },
      "layer": [
        {"data": {"name": "axB"}, "mark": {"type": "rule", "stroke": "#444444", "strokeWidth": 1.2}, "encoding": {"x2": {"field": "t2"}}},
        {"data": {"name": "guideB"}, "mark": {"type": "rule", "stroke": "#7a7a7a", "strokeWidth": 1.1, "strokeDash": [7, 5]}, "encoding": {"y2": {"field": "u2"}}},
        {"data": {"name": "hatchB"}, "mark": {"type": "rule", "stroke": "#4d4d4d", "strokeWidth": 1}, "encoding": {"y2": {"field": "u2"}}},
        {"data": {"name": "arcs"}, "mark": {"type": "line", "stroke": "black", "strokeWidth": 1, "strokeDash": [9, 5], "interpolate": "monotone"},
         "encoding": {"detail": {"field": "s"}}},
        {"data": {"name": "lowDash"}, "mark": {"type": "line", "stroke": "black", "strokeWidth": 1, "strokeDash": [9, 5], "interpolate": "monotone"},
         "encoding": {"detail": {"field": "s"}}},
        {"data": {"name": "edgeB"}, "mark": {"type": "line", "stroke": "black", "strokeWidth": 1, "interpolate": "monotone"},
         "encoding": {"detail": {"field": "s"}}},
        {"data": {"name": "ud"}, "mark": {"type": "line", "stroke": "black", "strokeWidth": 4.2, "strokeJoin": "miter"},
         "encoding": {"detail": {"field": "s"}, "order": {"value": null}}},
        {"data": {"name": "udDash"}, "mark": {"type": "line", "stroke": "black", "strokeWidth": 4.2, "strokeDash": [15, 8], "strokeCap": "butt"},
         "encoding": {"order": {"value": null}}},
        {"data": {"name": "vs4"}, "mark": {"type": "line", "stroke": "black", "strokeWidth": 4.2, "strokeJoin": "miter"},
         "encoding": {"order": {"value": null}}},
        {"data": {"name": "leadB"}, "mark": {"type": "rule", "stroke": "black", "strokeWidth": 1}, "encoding": {"x2": {"field": "t2"}, "y2": {"field": "u2"}}},
        {"data": {"name": "mkB"}, "mark": {"type": "circle", "fill": "black", "opacity": 1, "size": 45}},
        {"data": {"name": "jB"}, "mark": {"type": "circle", "fill": "black", "opacity": 1, "size": 30}},
        {"data": {"name": "labB"}, "mark": {"type": "text", "font": "Liberation Serif, Times New Roman, serif", "fontStyle": "italic", "fontSize": 27, "align": "center", "baseline": "middle", "color": "black"},
         "encoding": {"text": {"field": "txt"}}},
        {"data": {"name": "subB"}, "mark": {"type": "text", "font": "Liberation Serif, Times New Roman, serif", "fontStyle": "italic", "fontSize": 18, "align": "center", "baseline": "middle", "color": "black"},
         "encoding": {"text": {"field": "txt"}}}
      ]
    }
  ],
  "resolve": {"scale": {"y": "independent"}}
}
